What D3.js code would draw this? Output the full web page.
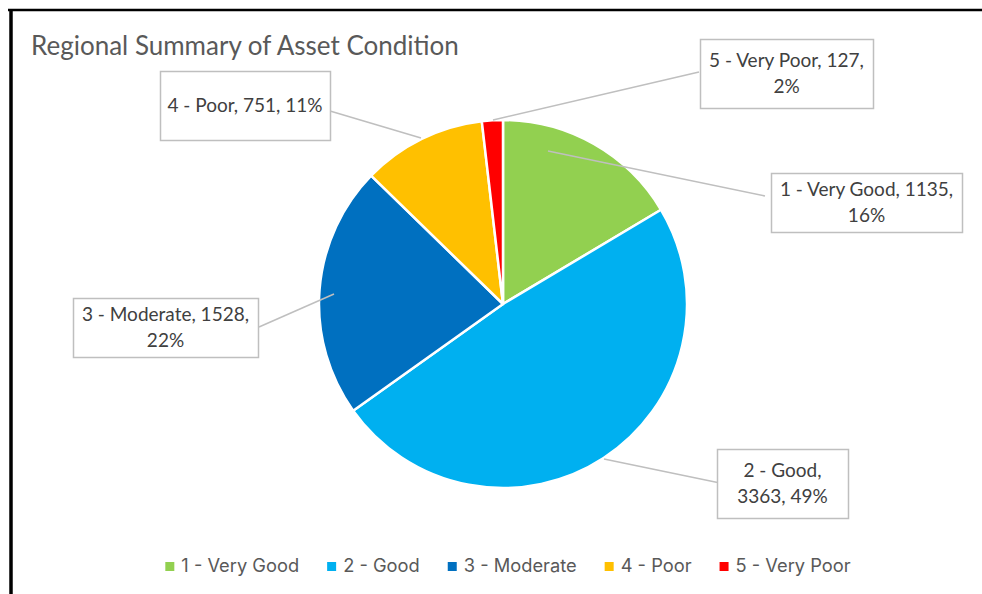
<!DOCTYPE html>
<html>
<head>
<meta charset="utf-8">
<script src="https://cdn.jsdelivr.net/npm/d3@7"></script>
<style>
  html, body { margin: 0; padding: 0; background: #fff; }
  svg { display: block; }
</style>
</head>
<body>
<svg id="chart"></svg>
<script>
'use strict';

var categories = ['1 - Very Good', '2 - Good', '3 - Moderate', '4 - Poor', '5 - Very Poor'];
var counts = [1135, 3363, 1528, 751, 127];
var colors = ['#92D050', '#00B0F0', '#0070C0', '#FFC000', '#FF0000'];

// words on the first line of each data label
var labelWrap = [5, 3, 4, 6, 5];

// label boxes and leader lines (layout only)
var labelLayout = [
    {box: [771, 173, 191, 59], from: [548, 151], to: [765, 196]},
    {box: [717, 449, 131, 69], from: [604, 459], to: [720, 483]},
    {box: [73, 298, 185, 59], from: [334, 294], to: [259, 327]},
    {box: [160, 71, 170, 69], from: [421, 138], to: [330, 111]},
    {box: [700, 39, 173, 69], from: [493, 120], to: [699, 72]}
];

var W = 982, H = 594;
var svg = d3.select('#chart').attr('width', W).attr('height', H);

// frame
svg.append('line').attr('x1', 8).attr('x2', W).attr('y1', 10).attr('y2', 10)
    .attr('stroke', '#000').attr('stroke-width', 2.5);
svg.append('line').attr('x1', 11).attr('x2', 11).attr('y1', 9).attr('y2', H)
    .attr('stroke', '#000').attr('stroke-width', 3.5);

// title
svg.append('text')
    .attr('x', 31).attr('y', 55)
    .attr('font-family', 'Lato, "Open Sans", sans-serif')
    .attr('font-size', 26)
    .attr('fill', '#595959')
    .text('Regional Summary of Asset Condition');

var data = categories.map(function(c, i) {
    return {name: c, value: counts[i], color: colors[i], idx: i};
});
var total = d3.sum(counts);

var cx = 503, cy = 304, radius = 184;

var pie = d3.pie().sort(null).value(function(d) { return d.value; });
var arc = d3.arc().innerRadius(0).outerRadius(radius);

var g = svg.append('g').attr('transform', 'translate(' + cx + ',' + cy + ')');
g.selectAll('path')
    .data(pie(data))
    .enter().append('path')
    .attr('d', arc)
    .attr('fill', function(d) { return d.data.color; })
    .attr('stroke', '#fff')
    .attr('stroke-width', 2.5)
    .attr('stroke-linejoin', 'round');

// leader lines
svg.selectAll('.leader')
    .data(data)
    .enter().append('line')
    .attr('class', 'leader')
    .attr('x1', function(d) { return labelLayout[d.idx].from[0]; })
    .attr('y1', function(d) { return labelLayout[d.idx].from[1]; })
    .attr('x2', function(d) { return labelLayout[d.idx].to[0]; })
    .attr('y2', function(d) { return labelLayout[d.idx].to[1]; })
    .attr('stroke', '#bfbfbf')
    .attr('stroke-width', 1.5);

// data labels
var labels = svg.selectAll('.label')
    .data(data)
    .enter().append('g')
    .attr('class', 'label');

labels.append('rect')
    .attr('x', function(d) { return labelLayout[d.idx].box[0] + 0.5; })
    .attr('y', function(d) { return labelLayout[d.idx].box[1] + 0.5; })
    .attr('width', function(d) { return labelLayout[d.idx].box[2]; })
    .attr('height', function(d) { return labelLayout[d.idx].box[3]; })
    .attr('fill', '#fff')
    .attr('stroke', '#bfbfbf')
    .attr('stroke-width', 1.5);

labels.each(function(d) {
    var b = labelLayout[d.idx].box;
    var pct = Math.round(d.value / total * 100);
    var words = (d.name + ', ' + d.value + ', ' + pct + '%').split(' ');
    var lines = [words.slice(0, labelWrap[d.idx]).join(' ')];
    if (labelWrap[d.idx] < words.length) lines.push(words.slice(labelWrap[d.idx]).join(' '));
    var lh = 26;
    var midY = b[1] + b[3] / 2;
    var startY = midY - (lines.length - 1) * lh / 2;
    var t = d3.select(this).append('text')
        .attr('text-anchor', 'middle')
        .attr('font-family', 'Lato, "Open Sans", sans-serif')
        .attr('font-size', 19)
        .attr('fill', '#404040');
    lines.forEach(function(l, i) {
        t.append('tspan')
            .attr('x', b[0] + b[2] / 2)
            .attr('y', startY + i * lh)
            .attr('dy', '0.35em')
            .text(l);
    });
});

// legend
var legend = svg.append('g').attr('class', 'legend');
var items = legend.selectAll('g')
    .data(data)
    .enter().append('g');
items.append('rect')
    .attr('width', 9).attr('height', 9)
    .attr('y', 562)
    .attr('fill', function(d) { return d.color; });
items.append('text')
    .attr('y', 572)
    .attr('font-family', 'Inter, Roboto, sans-serif')
    .attr('font-size', 18.3)
    .attr('fill', '#595959')
    .text(function(d) { return d.name; });

var gap = 28;
var pos = 0, offsets = [];
items.each(function(d) {
    var w = d3.select(this).select('text').node().getComputedTextLength();
    offsets.push(pos);
    pos += 16 + w + gap;
});
var legendW = pos - gap;
var startX = 508 - legendW / 2;
items.each(function(d, i) {
    var sel = d3.select(this);
    sel.select('rect').attr('x', startX + offsets[i]);
    sel.select('text').attr('x', startX + offsets[i] + 16);
});
</script>
</body>
</html>
